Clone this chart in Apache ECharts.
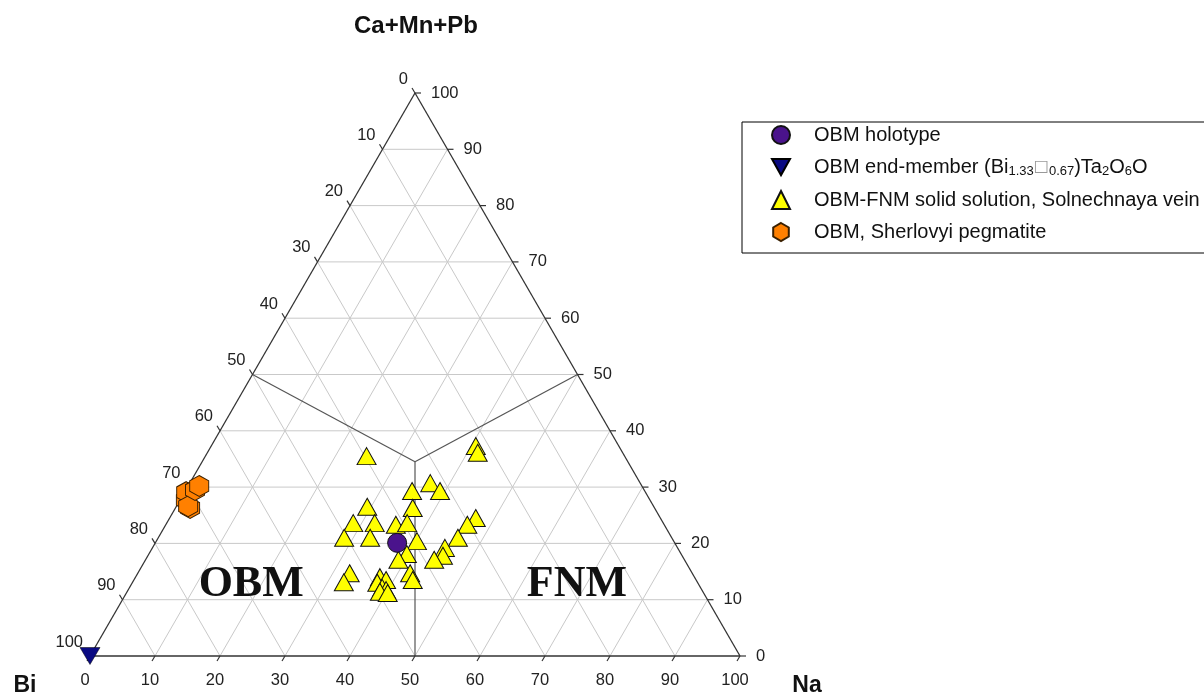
<!DOCTYPE html>
<html>
<head>
<meta charset="utf-8">
<script src="https://cdn.jsdelivr.net/npm/echarts@6/dist/echarts.min.js"></script>
<style>
html,body{margin:0;padding:0;background:#fff;}
#chart{width:1204px;height:695px;}
</style>
</head>
<body>
<div id="chart"></div>
<script>
// ---- data: ternary points as [Na %, Ca+Mn+Pb %]; Bi = 100 - Na - Ca ----
const tickValues = [0, 10, 20, 30, 40, 50, 60, 70, 80, 90, 100];
const gridValues = [10, 20, 30, 40, 50, 60, 70, 80, 90];
const seriesNames = [
  'OBM holotype',
  'OBM end-member (Bi1.33□0.67)Ta2O6O',
  'OBM-FNM solid solution, Solnechnaya vein',
  'OBM, Sherlovyi pegmatite'
];
const holotype = [[37.2, 20.1]];
const endMember = [[0, 0]];
const solnechnaya = [
  [24.8, 35.5], [40.7, 37.3], [41.6, 36.1], [37.0, 30.7], [39.2, 29.3],
  [34.9, 29.3], [36.5, 26.3], [29.4, 26.5], [28.7, 23.6], [32.0, 23.6],
  [35.4, 23.3], [37.0, 23.6], [28.6, 21.0], [32.6, 21.0], [40.1, 20.4],
  [39.7, 18.1], [38.9, 17.1], [32.6, 14.7], [32.5, 13.1], [37.6, 14.0],
  [38.8, 13.5], [37.7, 13.0], [38.9, 12.1], [39.7, 11.7], [38.9, 11.4],
  [40.2, 11.2], [41.9, 14.7], [42.9, 13.5], [47.1, 24.5], [46.4, 23.3],
  [46.1, 21.0], [45.0, 19.2], [45.4, 17.8], [44.4, 17.1]
];
const sherlovyi = [
  [0.9, 27.7], [0.25, 29.1], [2.25, 26.3], [1.8, 26.6], [1.4, 29.5], [1.7, 30.2]
];
// field boundaries (OBM / FNM / Ca-field)
const boundaryLines = [
  [[0, 50], [32.75, 34.5]],
  [[50, 50], [32.75, 34.5]],
  [[32.75, 34.5], [50, 0]]
];
const fieldLabels = [
  { text: 'OBM', at: [18.5, 12.6] },
  { text: 'FNM', at: [68.6, 12.6] }
];

const H = Math.sqrt(3) / 2;
function tern(na, ca) { return [na + ca / 2, ca * H]; }

const FONT = "'Liberation Sans', Arial, sans-serif";

const chart = echarts.init(document.getElementById('chart'), null, { renderer: 'canvas' });

function frameRender(params, api) {
  const c = (na, ca) => api.coord(tern(na, ca));
  const children = [];
  const seg = (p1, p2, stroke, w) => children.push({
    type: 'line', shape: { x1: p1[0], y1: p1[1], x2: p2[0], y2: p2[1] },
    style: { stroke: stroke, lineWidth: w }, silent: true
  });
  const txt = (s, x, y, align, style) => children.push({
    type: 'text', x: x, y: y,
    style: Object.assign({ text: s, textAlign: align, textVerticalAlign: 'middle',
      fill: '#222', font: '16.5px ' + FONT }, style || {}), silent: true
  });
  // grid lines
  gridValues.forEach(k => {
    seg(c(0, k), c(100 - k, k), '#c9c9c9', 1);        // constant Ca
    seg(c(k, 0), c(k, 100 - k), '#c9c9c9', 1);        // constant Na
    seg(c(100 - k, 0), c(0, 100 - k), '#c9c9c9', 1);  // constant Bi
  });
  // boundary lines
  boundaryLines.forEach(l => seg(c(l[0][0], l[0][1]), c(l[1][0], l[1][1]), '#555', 1.2));
  // triangle frame
  seg(c(0, 0), c(100, 0), '#333', 1.3);
  seg(c(100, 0), c(0, 100), '#333', 1.3);
  seg(c(0, 100), c(0, 0), '#333', 1.3);
  // ticks & labels
  tickValues.forEach(v => {
    // bottom: Na
    let p = c(v, 0);
    seg(p, [p[0] - 3, p[1] + 5], '#333', 1.2);
    txt(String(v), p[0] - 5, p[1] + 24, 'center');
    // left: Bi (Na = 0, Ca = 100 - Bi)
    p = c(0, 100 - v);
    seg(p, [p[0] - 3, p[1] - 5], '#333', 1.2);
    txt(String(v), p[0] - 7, p[1] - 14, 'right');
    // right: Ca (Na = 100 - Ca)
    p = c(100 - v, v);
    seg(p, [p[0] + 6, p[1]], '#333', 1.2);
    txt(String(v), p[0] + 16, p[1], 'left');
  });
  // field labels
  fieldLabels.forEach(f => {
    const p = c(f.at[0], f.at[1]);
    txt(f.text, p[0], p[1], 'center', { font: 'bold 44px "Liberation Serif", "Times New Roman", serif', fill: '#111' });
  });
  // vertex titles
  let p = c(0, 100);
  txt('Ca+Mn+Pb', p[0] + 1, p[1] - 67, 'center', { font: 'bold 24px ' + FONT, fill: '#111' });
  p = c(0, 0);
  txt('Bi', p[0] - 65, p[1] + 30, 'center', { font: 'bold 23px ' + FONT, fill: '#111' });
  p = c(100, 0);
  txt('Na', p[0] + 67, p[1] + 30, 'center', { font: 'bold 23px ' + FONT, fill: '#111' });
  return { type: 'group', children: children };
}

const toXY = arr => arr.map(d => tern(d[0], d[1]));

const invTri = 'path://M0,0 L20,0 L10,18 Z';
const hexagon = 'path://M8.66,0 L17.32,5 L17.32,15 L8.66,20 L0,15 L0,5 Z';

const option = {
  animation: false,
  backgroundColor: '#ffffff',
  grid: { left: 90, top: 93, width: 650, height: 563, containLabel: false },
  xAxis: { type: 'value', min: 0, max: 100, show: false },
  yAxis: { type: 'value', min: 0, max: 100 * H, show: false },
  legend: {
    orient: 'vertical',
    left: 742, top: 122,
    padding: [3, 12, 11, 29],
    itemGap: 12,
    itemWidth: 18, itemHeight: 18,
    borderColor: '#000', borderWidth: 1,
    data: [
      { name: seriesNames[0], icon: 'circle' },
      { name: seriesNames[1], icon: invTri },
      { name: seriesNames[2], icon: 'triangle' },
      { name: seriesNames[3], icon: hexagon }
    ],
    formatter: function (name) {
      if (name === seriesNames[1]) {
        return '{t|OBM end-member (Bi}{s|1.33}{b|□}{s|0.67}{t|)Ta}{s|2}{t|O}{s|6}{t|O}';
      }
      return '{t|' + name + '}';
    },
    textStyle: {
      fontFamily: FONT, fontSize: 20, color: '#111',
      padding: [0, 0, 0, 19],
      rich: {
        t: { fontFamily: FONT, fontSize: 20, color: '#111', lineHeight: 20 },
        s: { fontFamily: FONT, fontSize: 13, color: '#111', verticalAlign: 'bottom', padding: [9, 0, 0, 0] },
        b: { fontFamily: 'DejaVu Sans', fontSize: 16, color: '#999' }
      }
    }
  },
  series: [
    {
      type: 'custom', name: 'frame', coordinateSystem: 'cartesian2d',
      data: [[0, 0]], renderItem: frameRender, silent: true, z: 1, clip: false
    },
    {
      type: 'scatter', name: seriesNames[0], data: toXY(holotype),
      symbol: 'circle', symbolSize: 19, z: 5,
      itemStyle: { color: '#4a138c', borderColor: '#111', borderWidth: 1, opacity: 1 }
    },
    {
      type: 'scatter', name: seriesNames[1], data: toXY(endMember),
      symbol: invTri, symbolSize: [20, 17], z: 5,
      itemStyle: { color: '#0a0a82', borderColor: '#000', borderWidth: 0.5, opacity: 1 }
    },
    {
      type: 'scatter', name: seriesNames[2], data: toXY(solnechnaya),
      symbol: 'triangle', symbolSize: [19, 17], z: 4,
      itemStyle: { color: '#ffff00', borderColor: '#111', borderWidth: 1, opacity: 1 }
    },
    {
      type: 'scatter', name: seriesNames[3], data: toXY(sherlovyi),
      symbol: hexagon, symbolSize: [19, 21], z: 4,
      itemStyle: { color: '#ff8000', borderColor: '#3a2000', borderWidth: 1, opacity: 1 }
    }
  ]
};
chart.setOption(option);
</script>
</body>
</html>
